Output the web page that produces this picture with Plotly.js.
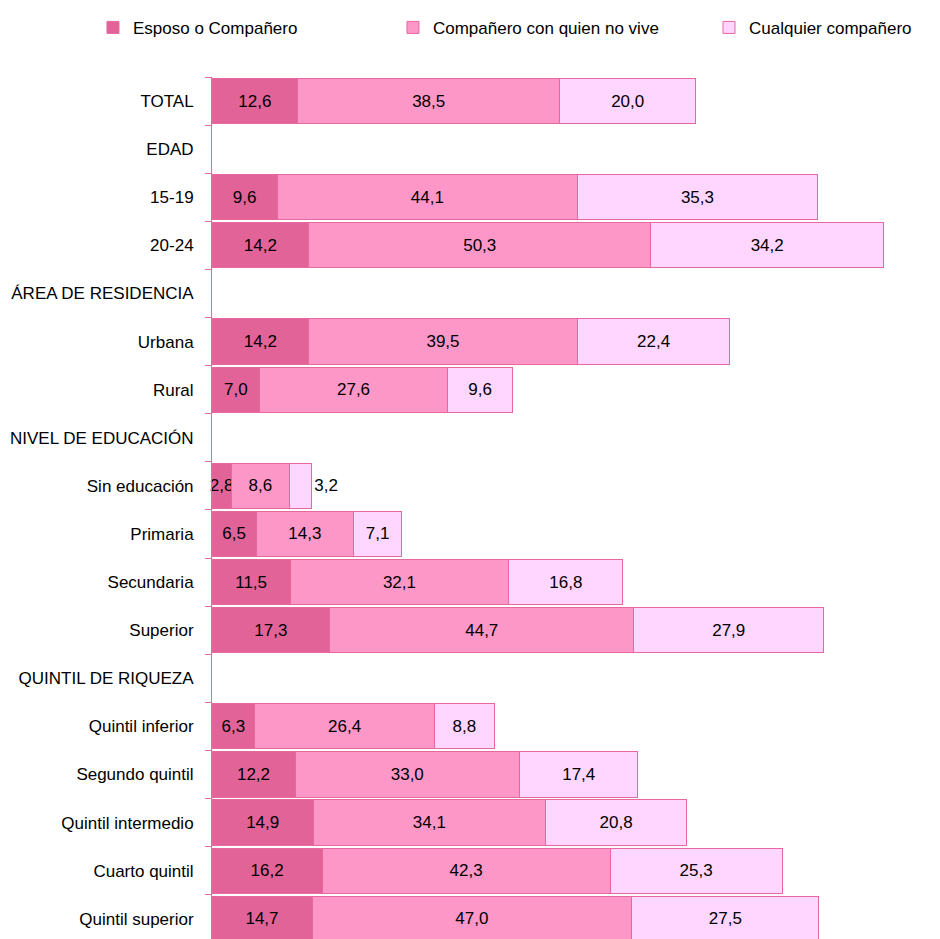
<!DOCTYPE html>
<html>
<head>
<meta charset="utf-8">
<script src="https://cdn.plot.ly/plotly-3.0.1.min.js"></script>
<style>html,body{margin:0;padding:0;background:#fff;}</style>
</head>
<body>
<div id="chart" style="width:940px;height:939px;"></div>
<script>
const categories = ["TOTAL","EDAD","15-19","20-24","ÁREA DE RESIDENCIA","Urbana","Rural","NIVEL DE EDUCACIÓN","Sin educación","Primaria","Secundaria","Superior","QUINTIL DE RIQUEZA","Quintil inferior","Segundo quintil","Quintil intermedio","Cuarto quintil","Quintil superior"];
const seriesNames = ["Esposo o Compañero","Compañero con quien no vive","Cualquier compañero"];
const esposo = [12.6,null,9.6,14.2,null,14.2,7.0,null,2.8,6.5,11.5,17.3,null,6.3,12.2,14.9,16.2,14.7];
const noVive = [38.5,null,44.1,50.3,null,39.5,27.6,null,8.6,14.3,32.1,44.7,null,26.4,33.0,34.1,42.3,47.0];
const cualquier = [20.0,null,35.3,34.2,null,22.4,9.6,null,3.2,7.1,16.8,27.9,null,8.8,17.4,20.8,25.3,27.5];

const colors = ["#E26398","#FD97C8","#FFD6FF"];
const lineColor = "#E8679F";
const fontFam = "Liberation Sans, Arial, sans-serif";
const fs = 17;
const fmt = v => v === null ? "" : v.toFixed(1).replace(".", ",");

const allSeries = [esposo, noVive, cualquier];
const legendIds = ["legend", "legend2", "legend3"];
const traces = allSeries.map((vals, i) => ({
  type: "bar",
  orientation: "h",
  name: seriesNames[i],
  legend: legendIds[i],
  y: categories,
  x: vals,
  text: vals.map(fmt),
  textposition: vals.map((v, k) => (i === 2 && categories[k] === "Sin educación") ? "outside" : "inside"),
  insidetextanchor: "middle",
  constraintext: "none",
  textangle: 0,
  cliponaxis: false,
  textfont: {family: fontFam, size: fs, color: "#000"},
  insidetextfont: {family: fontFam, size: fs, color: "#000"},
  outsidetextfont: {family: fontFam, size: fs, color: "#000"},
  marker: {color: colors[i], line: {color: lineColor, width: 1}},
  hoverinfo: "skip"
}));

const legendBase = {
  orientation: "h",
  xanchor: "left",
  y: 1.057, yanchor: "middle",
  font: {family: fontFam, size: fs, color: "#000"},
  bgcolor: "rgba(0,0,0,0)"
};

const layout = {
  width: 940, height: 939,
  margin: {l: 212, r: 0, t: 77, b: 0, pad: 0},
  barmode: "stack",
  bargap: 0.06,
  paper_bgcolor: "#fff",
  plot_bgcolor: "#fff",
  font: {family: fontFam, size: fs, color: "#000"},
  showlegend: true,
  legend: Object.assign({}, legendBase, {x: -0.1635}),
  legend2: Object.assign({}, legendBase, {x: 0.2486}),
  legend3: Object.assign({}, legendBase, {x: 0.6827}),
  xaxis: {
    range: [0, 107],
    showgrid: false, zeroline: false, showline: false,
    showticklabels: false, ticks: ""
  },
  yaxis: {
    type: "category",
    categoryorder: "array",
    categoryarray: categories,
    range: [17.42, -0.5],
    showgrid: false, zeroline: false,
    showline: true, linecolor: lineColor, linewidth: 1,
    ticks: "outside", ticklen: 6, tickcolor: lineColor, tickwidth: 1,
    tickson: "boundaries",
    ticklabelstandoff: 14,
    tickfont: {family: fontFam, size: fs, color: "#000"}
  }
};

Plotly.newPlot("chart", traces, layout, {displayModeBar: false, staticPlot: true});
</script>
</body>
</html>
